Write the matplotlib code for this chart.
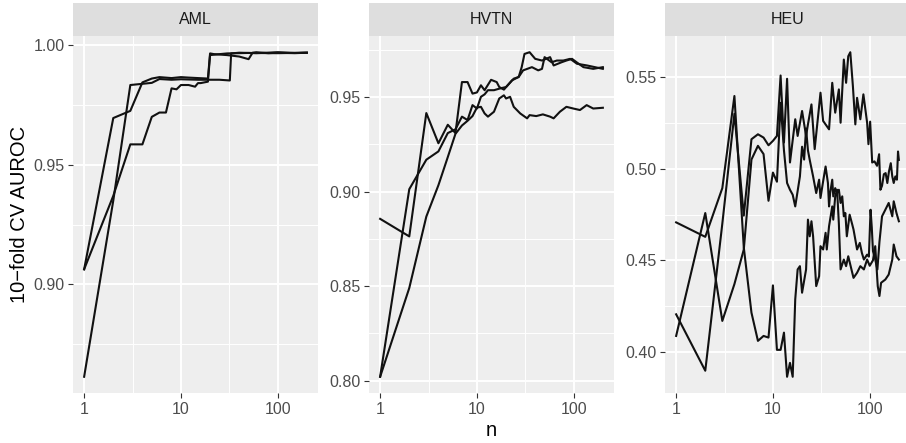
import matplotlib
matplotlib.use("Agg")
import matplotlib.pyplot as plt
import matplotlib.ticker as mticker
import numpy as np

plt.rcParams['font.family'] = ['Liberation Sans', 'DejaVu Sans']

# ---------------- data ----------------
panels = ["AML", "HVTN", "HEU"]

# AML
aml_n1 = [1, 2, 3, 4, 5, 6, 8, 10, 12, 15, 19, 20, 22, 30, 40, 50, 55, 60, 80, 100, 150, 200]
aml_v1 = [0.9063, 0.9695, 0.9725, 0.9844, 0.9860, 0.9866, 0.9862, 0.9866, 0.9864, 0.9862, 0.9860,
          0.9965, 0.9962, 0.9958, 0.9952, 0.9941, 0.9968, 0.9970, 0.9966, 0.9968, 0.9966, 0.9968]
aml_n2 = [1, 2, 3, 4, 5, 6, 8, 10, 15, 20, 25, 32, 33, 40, 60, 100, 150, 200]
aml_v2 = [0.8614, 0.9350, 0.9833, 0.9838, 0.9842, 0.9858, 0.9855, 0.9857, 0.9855, 0.9855, 0.9855,
          0.9852, 0.9965, 0.9968, 0.9966, 0.9970, 0.9967, 0.9968]
aml_n3 = [1, 2, 3, 4, 5, 6, 7, 8, 9, 10, 12, 14, 15, 16, 19, 20, 25, 30, 50, 100, 200]
aml_v3 = [0.9063, 0.9370, 0.9585, 0.9585, 0.9700, 0.9718, 0.9718, 0.9819, 0.9815, 0.9833, 0.9833,
          0.9826, 0.9841, 0.9841, 0.9847, 0.9958, 0.9962, 0.9965, 0.9967, 0.9966, 0.9968]

# HVTN
hvtn_n1 = [1, 2, 3, 4, 5, 6, 7, 8, 9, 10, 11, 12, 14, 16, 17, 19, 23, 27, 29, 31, 35, 40, 47, 57, 62,
           75, 84, 96, 107, 126, 159, 200]
hvtn_v1 = [0.8856, 0.8763, 0.9416, 0.9256, 0.9354, 0.9310, 0.9580, 0.9580, 0.9519, 0.9525, 0.9563,
           0.9537, 0.9592, 0.9580, 0.9554, 0.9540, 0.9589, 0.9607, 0.9659, 0.9729, 0.9738, 0.9703,
           0.9694, 0.9712, 0.9668, 0.9685, 0.9694, 0.9703, 0.9685, 0.9659, 0.9650, 0.9659]
hvtn_n2 = [1, 2, 3, 4, 5, 6, 7, 8, 9, 10, 11, 12, 13, 15, 17, 20, 24, 27, 30, 37, 43, 47, 50, 59, 67,
           78, 92, 108, 137, 200]
hvtn_v2 = [0.8020, 0.9013, 0.9169, 0.9213, 0.9310, 0.9330, 0.9397, 0.9379, 0.9458, 0.9440, 0.9502,
           0.9515, 0.9537, 0.9537, 0.9545, 0.9554, 0.9598, 0.9607, 0.9642, 0.9659, 0.9642, 0.9650,
           0.9712, 0.9685, 0.9694, 0.9694, 0.9703, 0.9677, 0.9668, 0.9650]
hvtn_n3 = [1, 2, 3, 4, 5, 6, 7, 8, 9, 10, 11, 12, 13, 15, 17, 19, 20, 22, 24, 28, 33, 35, 41, 48, 57,
           62, 72, 84, 99, 116, 136, 159, 200]
hvtn_v3 = [0.8020, 0.8490, 0.8868, 0.9034, 0.9183, 0.9306, 0.9350, 0.9375, 0.9400, 0.9445, 0.9449,
           0.9414, 0.9397, 0.9423, 0.9493, 0.9510, 0.9493, 0.9502, 0.9449, 0.9414, 0.9388, 0.9405,
           0.9400, 0.9409, 0.9397, 0.9388, 0.9423, 0.9449, 0.9440, 0.9432, 0.9458, 0.9440, 0.9444]

# HEU
heu_n1 = [1, 2, 3, 4, 5, 6, 7, 8, 9, 10, 11, 12, 13, 14, 15, 16, 17, 18, 19, 20, 22, 23, 24, 25, 26,
          28, 30, 31, 33, 35, 36, 38, 41, 42, 44, 46, 48, 50, 54, 57, 60, 66, 68, 74, 80, 87, 94, 100,
          108, 114, 121, 126, 131, 145, 157, 171, 177, 189, 200]
heu_v1 = [0.4707, 0.4628, 0.4894, 0.5397, 0.4570, 0.4214, 0.4060, 0.4087, 0.4078, 0.4363, 0.4011,
          0.4011, 0.4105, 0.3864, 0.3940, 0.3864, 0.4287, 0.4450, 0.4468, 0.4323, 0.4450, 0.4722,
          0.4631, 0.4713, 0.4631, 0.4359, 0.4413, 0.4577, 0.4559, 0.4650, 0.4559, 0.4686, 0.4794,
          0.4722, 0.4849, 0.4885, 0.4700, 0.4450, 0.4504, 0.4468, 0.4522, 0.4432, 0.4404, 0.4432,
          0.4468, 0.4450, 0.4504, 0.4470, 0.4500, 0.4577, 0.4359, 0.4305, 0.4377, 0.4395, 0.4422,
          0.4504, 0.4586, 0.4522, 0.4504]
heu_n2 = [1, 2, 3, 4, 5, 6, 7, 8, 9, 10, 11, 12, 13, 14, 15, 17, 18, 20, 22, 23, 25, 27, 31, 33, 38,
          41, 44, 48, 50, 54, 57, 60, 63, 67, 71, 74, 80, 86, 94, 97, 101, 106, 112, 119, 125, 129,
          134, 140, 146, 152, 158, 165, 171, 177, 184, 191, 196, 200]
heu_v2 = [0.4205, 0.3897, 0.4700, 0.5300, 0.4744, 0.5161, 0.5188, 0.5170, 0.5128, 0.5152, 0.5179,
          0.5509, 0.5143, 0.5491, 0.5034, 0.5270, 0.5179, 0.5315, 0.5179, 0.5242, 0.5351, 0.5107,
          0.5415, 0.5261, 0.5215, 0.5469, 0.5306, 0.5433, 0.5251, 0.5596, 0.5469, 0.5614, 0.5636,
          0.5451, 0.5242, 0.5387, 0.5270, 0.5406, 0.5251, 0.5134, 0.5257, 0.5034, 0.5040, 0.5016,
          0.5079, 0.4885, 0.4907, 0.4970, 0.4976, 0.4922, 0.4985, 0.5030, 0.4958, 0.4922, 0.4958,
          0.4940, 0.5094, 0.5048]
heu_n3 = [1, 2, 3, 4, 5, 6, 7, 8, 9, 10, 11, 12, 13, 14, 15, 16, 17, 19, 20, 21, 22, 23, 24, 26, 28,
          30, 31, 33, 35, 37, 38, 39, 41, 42, 44, 46, 48, 50, 52, 54, 56, 58, 62, 66, 68, 71, 74, 79,
          83, 87, 94, 98, 102, 105, 108, 114, 120, 126, 134, 145, 157, 171, 177, 189, 200]
heu_v3 = [0.4087, 0.4758, 0.4169, 0.4370, 0.4559, 0.5050, 0.5125, 0.5080, 0.4825, 0.4979, 0.4929,
          0.5360, 0.5100, 0.4922, 0.4885, 0.4858, 0.4794, 0.4958, 0.5120, 0.5050, 0.5220, 0.5100,
          0.5048, 0.4958, 0.4867, 0.4940, 0.4840, 0.4931, 0.5012, 0.4922, 0.4794, 0.4867, 0.4940,
          0.4849, 0.4894, 0.4867, 0.4885, 0.4813, 0.4849, 0.4740, 0.4758, 0.4631, 0.4749, 0.4695,
          0.4668, 0.4613, 0.4559, 0.4595, 0.4540, 0.4504, 0.4531, 0.4520, 0.4776, 0.4680, 0.4550,
          0.4504, 0.4450, 0.4600, 0.4740, 0.4776, 0.4813, 0.4740, 0.4822, 0.4758, 0.4713]

series = {
    "AML": [(aml_n1, aml_v1), (aml_n2, aml_v2), (aml_n3, aml_v3)],
    "HVTN": [(hvtn_n1, hvtn_v1), (hvtn_n2, hvtn_v2), (hvtn_n3, hvtn_v3)],
    "HEU": [(heu_n1, heu_v1), (heu_n2, heu_v2), (heu_n3, heu_v3)],
}
y_breaks = {
    "AML": [0.90, 0.95, 1.00],
    "HVTN": [0.80, 0.85, 0.90, 0.95],
    "HEU": [0.40, 0.45, 0.50, 0.55],
}
x_breaks = [1, 10, 100]
x_labels = ["1", "10", "100"]

# ---------------- layout ----------------
W, H = 906, 443
fig = plt.figure(figsize=(W / 100, H / 100), dpi=100)
fig.patch.set_facecolor("white")

panel_left = [73, 369, 665]
panel_w = 245
top, bottom = 36, 393
strip_top = 3

all_n = [n for p in panels for s in series[p] for n in s[0]]
lx0, lx1 = np.log10(min(all_n)), np.log10(max(all_n))
pad = 0.05 * (lx1 - lx0)
xlim = (10 ** (lx0 - pad), 10 ** (lx1 + pad))

for p, left in zip(panels, panel_left):
    ax = fig.add_axes([left / W, (H - bottom) / H, panel_w / W, (bottom - top) / H])
    ax.set_facecolor("#EEEEEE")
    for s in ax.spines.values():
        s.set_visible(False)
    for n, v in series[p]:
        assert len(n) == len(v), p
        ax.plot(n, v, color="#111111", lw=1.5, solid_joinstyle="round", zorder=3)
    ax.set_xscale("log")
    ax.set_xlim(*xlim)
    allv = [x for s in series[p] for x in s[1]]
    lo, hi = min(allv), max(allv)
    r = hi - lo
    ax.set_ylim(lo - 0.05 * r, hi + 0.05 * r)

    ax.xaxis.set_major_locator(mticker.FixedLocator(x_breaks))
    ax.xaxis.set_major_formatter(mticker.FixedFormatter(x_labels))
    ax.xaxis.set_minor_locator(mticker.FixedLocator([10 ** 0.5, 10 ** 1.5, 10 ** 2.5]))
    yb = y_breaks[p]
    ax.yaxis.set_major_locator(mticker.FixedLocator(yb))
    ax.yaxis.set_major_formatter(mticker.FixedFormatter(["%.2f" % b for b in yb]))
    step = yb[1] - yb[0]
    minors = [yb[0] - step / 2] + [b + step / 2 for b in yb]
    ax.yaxis.set_minor_locator(mticker.FixedLocator(minors))

    ax.grid(which="major", color="white", lw=1.4, zorder=1)
    ax.grid(which="minor", color="white", lw=0.7, zorder=1)
    ax.set_axisbelow(True)
    ax.tick_params(which="major", length=3.7, width=0.8, color="#333333",
                   labelcolor="#4D4D4D", labelsize=11.5, pad=2.5)
    ax.tick_params(which="minor", length=0)

    sax = fig.add_axes([left / W, (H - top) / H, panel_w / W, (top - strip_top) / H])
    sax.set_facecolor("#DEDEDE")
    sax.set_xticks([])
    sax.set_yticks([])
    for s in sax.spines.values():
        s.set_visible(False)
    sax.text(0.5, 0.5, p, ha="center", va="center", fontsize=11.5, color="#1A1A1A",
             transform=sax.transAxes)

fig.text(20 / W, 1 - 214.5 / H, "10\u2212fold CV AUROC", rotation=90, ha="center", va="center",
         fontsize=14.5, color="black")
fig.text(491 / W, 1 - 431 / H, "n", ha="center", va="center", fontsize=14.5, color="black")

fig.savefig("out.png", dpi=100)
